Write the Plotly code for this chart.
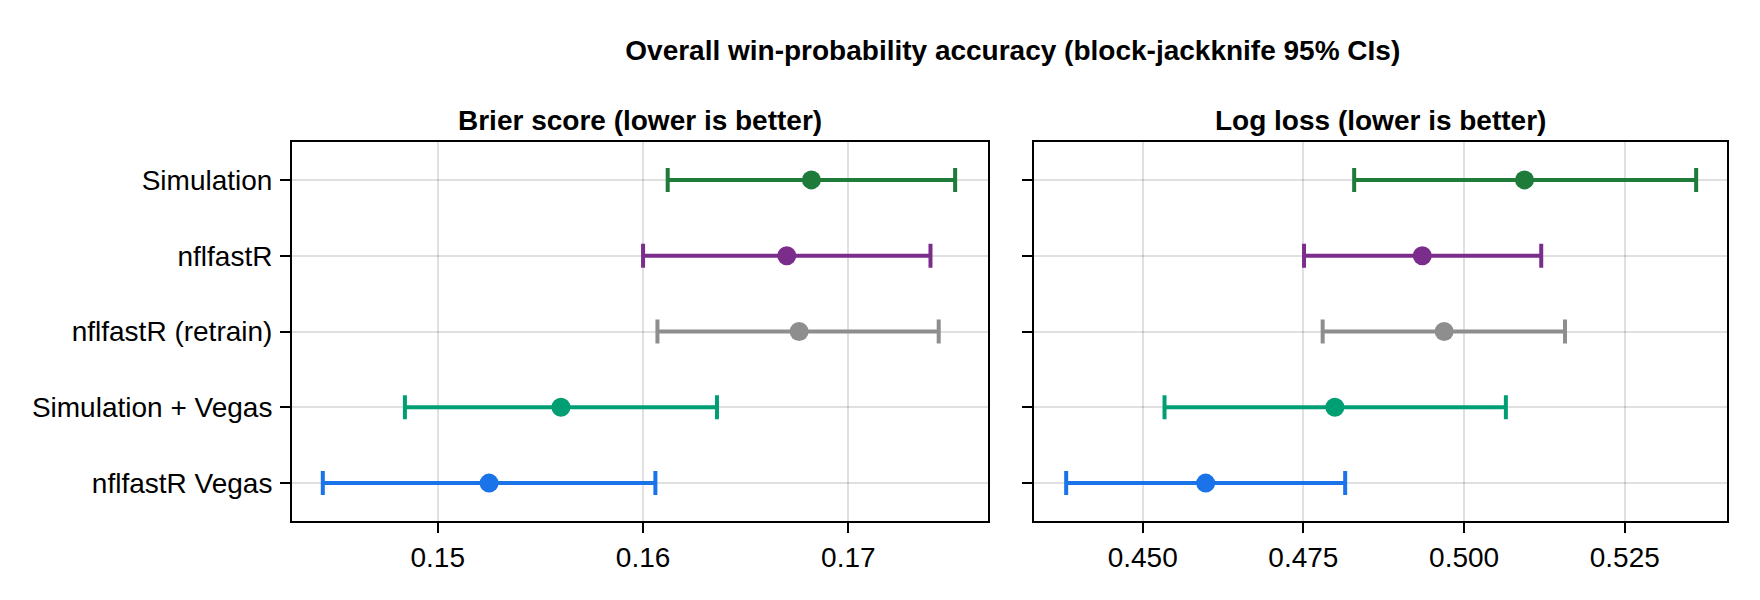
import plotly.graph_objects as go

# values (point estimate + block-jackknife 95% CI)
models = ["Simulation", "nflfastR", "nflfastR (retrain)", "Simulation + Vegas", "nflfastR Vegas"]

brier_est = [0.1682, 0.1670, 0.1676, 0.1560, 0.1525]
brier_lo = [0.1612, 0.1600, 0.1607, 0.1484, 0.1444]
brier_hi = [0.1752, 0.1740, 0.1744, 0.1636, 0.1606]

logloss_est = [0.5094, 0.4935, 0.4969, 0.4799, 0.4598]
logloss_lo = [0.4829, 0.4751, 0.4780, 0.4534, 0.4381]
logloss_hi = [0.5361, 0.5120, 0.5157, 0.5065, 0.4815]

brier_ticks = [0.15, 0.16, 0.17]
logloss_ticks = [0.450, 0.475, 0.500, 0.525]

colors = ["#1e7b3a", "#7b2d8c", "#8e8e8e", "#009e73", "#1a73e8"]

FONT = "Liberation Sans"
FS = 28

# page body adds an 8px margin, so the figure is 8px smaller and shifted
W, H = 1752, 592

fig = go.Figure()

# -------------------------
# one trace per model and panel
# -------------------------
for i, name in enumerate(models):
    for est, lo, hi, xa, ya in [
        (brier_est, brier_lo, brier_hi, "x", "y"),
        (logloss_est, logloss_lo, logloss_hi, "x2", "y2"),
    ]:
        fig.add_trace(go.Scatter(
            x=[est[i]],
            y=[name],
            xaxis=xa,
            yaxis=ya,
            mode="markers",
            marker=dict(size=19, color=colors[i]),
            error_x=dict(
                type="data",
                symmetric=False,
                array=[hi[i] - est[i]],
                arrayminus=[est[i] - lo[i]],
                color=colors[i],
                thickness=4,
                width=12
            ),
            showlegend=False,
            hoverinfo="skip"
        ))

axis_common = dict(
    showline=True,
    linecolor="black",
    linewidth=2,
    mirror=True,
    ticks="outside",
    ticklen=10,
    tickwidth=2,
    tickcolor="black",
    showgrid=True,
    gridcolor="rgba(0,0,0,0.12)",
    gridwidth=2,
    zeroline=False,
    tickfont=dict(family=FONT, size=FS, color="black")
)

fig.update_layout(
    width=W,
    height=H,
    margin=dict(l=284, r=33, t=134, b=79),
    plot_bgcolor="white",
    paper_bgcolor="white",
    font=dict(family=FONT, size=FS, color="black"),
    title=dict(
        text="<b>Overall win-probability accuracy (block-jackknife 95% CIs)</b>",
        x=0.5735,
        xanchor="center",
        y=1 - 42 / H,
        yanchor="middle",
        font=dict(family=FONT, size=FS, color="black")
    ),
    xaxis=dict(
        domain=[0, 0.485],
        range=[0.1429, 0.1768],
        tickvals=brier_ticks,
        tickformat=".2f",
        anchor="y",
        **axis_common
    ),
    xaxis2=dict(
        domain=[0.5171, 1],
        range=[0.4331, 0.5409],
        tickvals=logloss_ticks,
        tickformat=".3f",
        anchor="y2",
        **axis_common
    ),
    yaxis=dict(
        type="category",
        categoryorder="array",
        categoryarray=models,
        range=[4.5, -0.5],
        anchor="x",
        ticklabelstandoff=2,
        **axis_common
    ),
    yaxis2=dict(
        type="category",
        categoryorder="array",
        categoryarray=models,
        range=[4.5, -0.5],
        anchor="x2",
        showticklabels=False,
        **axis_common
    ),
    annotations=[
        dict(
            text="<b>Brier score (lower is better)</b>",
            xref="paper", yref="paper",
            x=0.2425, y=(521 - 120) / 379,
            xanchor="center", yanchor="middle",
            showarrow=False,
            font=dict(family=FONT, size=FS, color="black")
        ),
        dict(
            text="<b>Log loss (lower is better)</b>",
            xref="paper", yref="paper",
            x=0.7585, y=(521 - 120) / 379,
            xanchor="center", yanchor="middle",
            showarrow=False,
            font=dict(family=FONT, size=FS, color="black")
        ),
    ]
)

fig.write_html("out.html")
